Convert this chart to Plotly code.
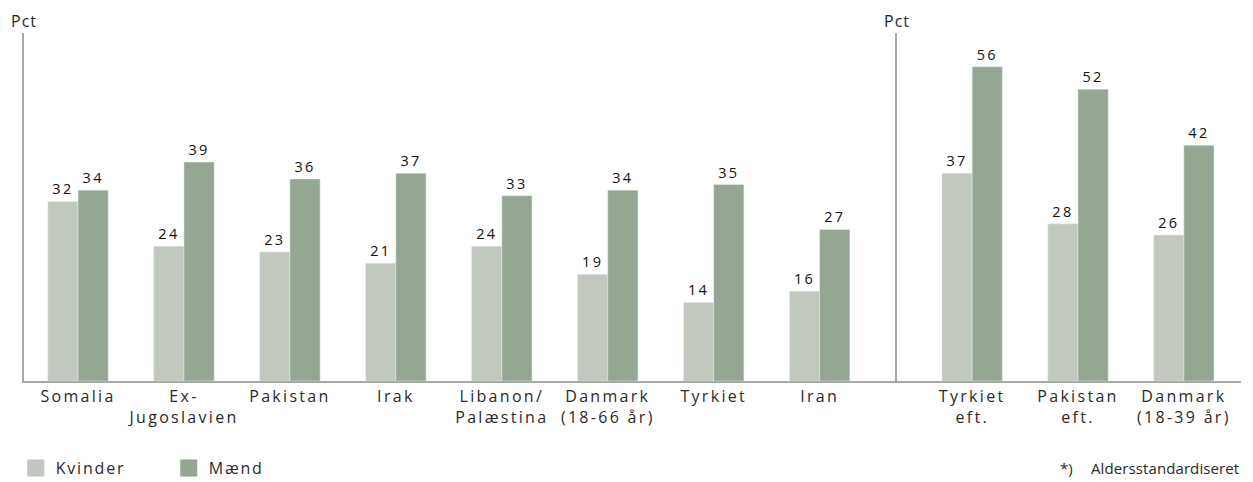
import plotly.graph_objects as go
from plotly.subplots import make_subplots

left_cats = ["Somalia", "Ex-<br>Jugoslavien", "Pakistan", "Irak", "Libanon/<br>Palæstina",
             "Danmark<br>(18-66 år)", "Tyrkiet", "Iran"]
left_kvinder = [32, 24, 23, 21, 24, 19, 14, 16]
left_maend = [34, 39, 36, 37, 33, 34, 35, 27]

right_cats = ["Tyrkiet<br>eft.", "Pakistan<br>eft.", "Danmark<br>(18-39 år)"]
right_kvinder = [37, 28, 26]
right_maend = [56, 52, 42]

series_names = ["Kvinder", "Mænd"]

C_K = "#C1C8BD"
C_M = "#95A692"
FONT = "Open Sans"
TXT = "#2a2a2a"


def sp(text, ls):
    return "<br>".join(f"<span style='letter-spacing:{ls}px'>{line}</span>" for line in str(text).split("<br>"))


fig = make_subplots(rows=1, cols=2, column_widths=[873, 344], horizontal_spacing=0)


def add(col, cats, k, m):
    fig.add_trace(go.Bar(x=cats, y=k, name=series_names[0], marker_color=C_K, width=0.285, offset=-0.285,
                         text=[sp(v, 2.3) for v in k], textposition="outside", cliponaxis=False,
                         textfont=dict(size=14.5, color="#111", family=FONT),
                         showlegend=False, hoverinfo="x+y"), row=1, col=col)
    fig.add_trace(go.Bar(x=cats, y=m, name=series_names[1], marker_color=C_M, width=0.285, offset=0,
                         text=[sp(v, 2.3) for v in m], textposition="outside", cliponaxis=False,
                         textfont=dict(size=14.5, color="#111", family=FONT),
                         showlegend=False, hoverinfo="x+y"), row=1, col=col)


add(1, left_cats, left_kvinder, left_maend)
add(2, right_cats, right_kvinder, right_maend)

# legend-only entries on a hidden axis (larger swatches)
for nm, c in zip(series_names, [C_K, C_M]):
    fig.add_trace(go.Bar(x=[0], y=[1], name=sp(nm, 1.8), xaxis="x3", yaxis="y3",
                         marker=dict(color=c, line=dict(color=c, width=6)),
                         showlegend=True, hoverinfo="skip"))

axis_common = dict(showline=True, linecolor="#A9A9A9", linewidth=1.5, ticks="", showgrid=False,
                   tickfont=dict(size=16, color=TXT, family=FONT), fixedrange=True)
fig.update_xaxes(**axis_common)
fig.update_xaxes(range=[-0.51, 7.73], tickvals=left_cats, ticktext=[sp(c, 2.3) for c in left_cats],
                 row=1, col=1)
fig.update_xaxes(range=[-0.71, 2.54], tickvals=right_cats, ticktext=[sp(c, 2.3) for c in right_cats],
                 row=1, col=2)
fig.update_yaxes(range=[0, 62], showline=True, linecolor="#A9A9A9", linewidth=1.5,
                 showticklabels=False, ticks="", showgrid=False, zeroline=False, fixedrange=True)

fig.add_annotation(text=sp("Pct", 1.0), xref="paper", yref="paper", x=0.0, y=1.0, yshift=12,
                   showarrow=False, xanchor="center", yanchor="middle",
                   font=dict(size=16, color=TXT, family=FONT))
fig.add_annotation(text=sp("Pct", 1.0), x=-0.71, xref="x2", yref="paper", y=1.0, yshift=12,
                   showarrow=False, xanchor="center", yanchor="middle",
                   font=dict(size=16, color=TXT, family=FONT))
fig.add_annotation(text="*)", xref="paper", yref="paper", x=0.8496, y=-0.25,
                   showarrow=False, xanchor="left", yanchor="middle",
                   font=dict(size=15, color=TXT, family=FONT))
fig.add_annotation(text=sp("Aldersstandardiseret", 0.1), xref="paper", yref="paper", x=1.0, y=-0.25,
                   showarrow=False, xanchor="right", yanchor="middle",
                   font=dict(size=15, color=TXT, family=FONT))

fig.update_layout(
    width=1253, height=482,
    margin=dict(l=24, r=12, t=33, b=101, autoexpand=False),
    paper_bgcolor="white", plot_bgcolor="white",
    barmode="overlay",
    xaxis3=dict(visible=False, domain=[0, 0.01], range=[5, 6], fixedrange=True),
    yaxis3=dict(visible=False, domain=[0, 0.01], range=[5, 6], anchor="x3", fixedrange=True),
    legend=dict(orientation="h", x=-0.0068, y=-0.25, xanchor="left", yanchor="middle",
                entrywidth=108, font=dict(size=16, color=TXT, family=FONT)),
    font=dict(family=FONT),
)

fig.write_html("out.html", config={"displayModeBar": False},
               post_script="document.body.style.margin='0';document.body.style.overflow='hidden';")
